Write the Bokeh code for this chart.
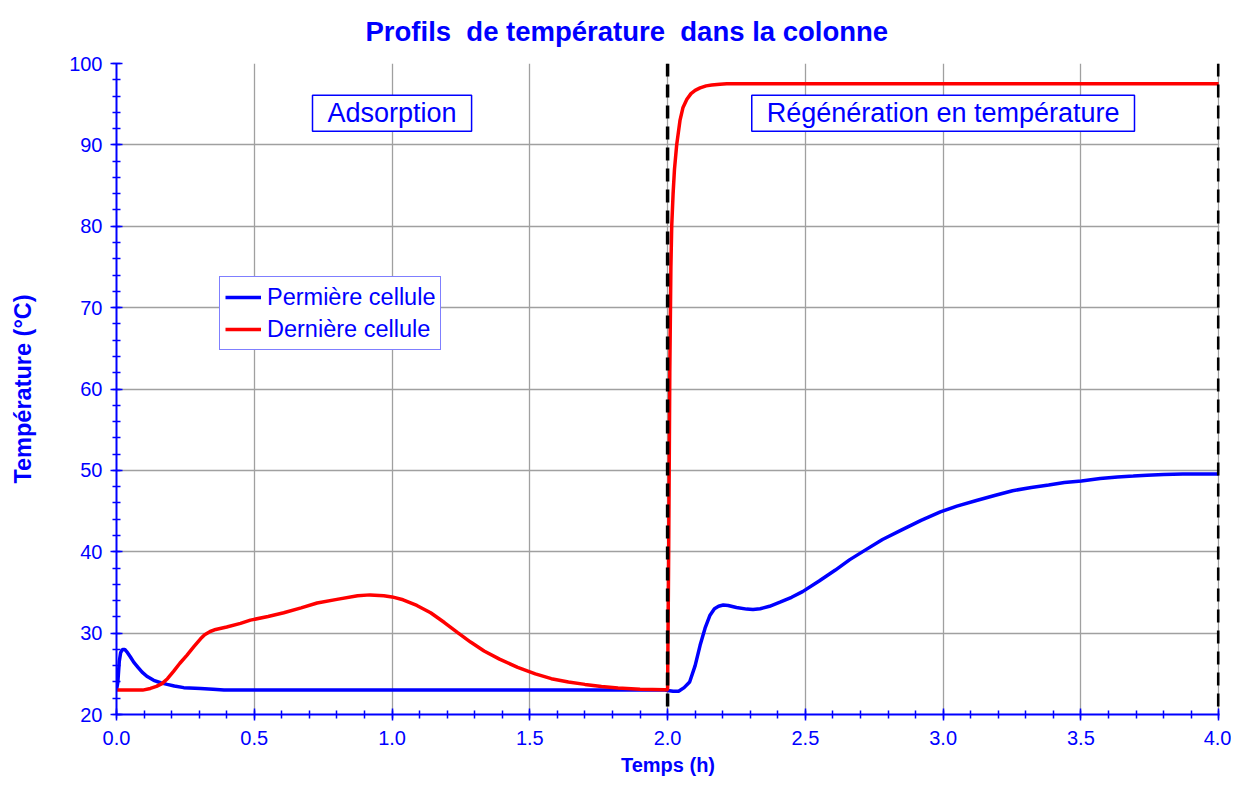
from bokeh.plotting import figure
from bokeh.models import Range1d, Span, Label, Legend, LegendItem, NumeralTickFormatter, SingleIntervalTicker
from bokeh.embed import file_html
from bokeh.resources import INLINE

# Première cellule (blue)
t_first = [0.0, 0.005, 0.01, 0.015, 0.022, 0.03, 0.04, 0.05, 0.063, 0.078, 0.093, 0.11, 0.135,
           0.16, 0.184, 0.21, 0.244, 0.305, 0.35, 0.39, 0.5,
           1.0, 1.5, 1.99, 2.0, 2.02, 2.04, 2.06, 2.08, 2.1, 2.118, 2.136, 2.154, 2.17, 2.185,
           2.202, 2.22, 2.25, 2.287, 2.31, 2.336, 2.37, 2.408, 2.45, 2.49, 2.55, 2.609, 2.66,
           2.717, 2.78, 2.848, 2.92, 2.99, 3.05, 3.121, 3.19, 3.252, 3.32, 3.383, 3.44, 3.502,
           3.57, 3.633, 3.69, 3.74, 3.8, 3.87, 4.0]
T_first = [23.0, 24.0, 26.5, 27.6, 28.0, 28.0, 27.6, 27.1, 26.4, 25.8, 25.2, 24.7, 24.2,
           23.9, 23.7, 23.5, 23.3, 23.2, 23.1, 23.0, 23.0,
           23.0, 23.0, 23.0, 22.95, 22.85, 22.85, 23.3, 24.0, 26.0, 28.5, 30.6, 32.2, 33.0, 33.3,
           33.45, 33.4, 33.15, 32.95, 32.9, 33.0, 33.3, 33.8, 34.4, 35.1, 36.4, 37.75, 39.0,
           40.2, 41.5, 42.65, 43.85, 44.9, 45.6, 46.3, 46.95, 47.5, 47.9, 48.2, 48.5, 48.7,
           49.0, 49.2, 49.3, 49.4, 49.5, 49.55, 49.55]

# Dernière cellule (red)
t_last = [0.0, 0.095, 0.123, 0.145, 0.165, 0.185, 0.207, 0.23, 0.256, 0.28, 0.305, 0.32, 0.34,
          0.36, 0.4, 0.45, 0.486, 0.55, 0.607, 0.67, 0.728, 0.8, 0.875, 0.92, 0.97, 1.0, 1.04,
          1.09, 1.14, 1.19, 1.237, 1.285, 1.334, 1.39, 1.456, 1.52, 1.578, 1.64, 1.7, 1.76,
          1.82, 1.9, 1.99, 2.0, 2.004, 2.008, 2.012, 2.015, 2.02, 2.025, 2.033, 2.045, 2.056,
          2.07, 2.085, 2.1, 2.118, 2.14, 2.16, 2.19, 2.215, 3.0, 4.0]
T_last = [23.0, 23.0, 23.2, 23.45, 23.8, 24.4, 25.3, 26.3, 27.3, 28.3, 29.3, 29.8, 30.2,
          30.45, 30.75, 31.2, 31.6, 32.05, 32.5, 33.1, 33.7, 34.15, 34.6, 34.7, 34.6, 34.45, 34.1,
          33.4, 32.5, 31.3, 30.1, 28.9, 27.8, 26.8, 25.8, 25.0, 24.4, 24.0, 23.7, 23.45,
          23.25, 23.1, 23.05, 23.05, 40.0, 62.0, 75.0, 80.0, 84.0, 87.0, 90.0, 93.0, 94.6,
          95.6, 96.3, 96.7, 97.0, 97.25, 97.35, 97.45, 97.5, 97.5, 97.5]

series_labels = ["Permière cellule", "Dernière cellule"]
phase_labels = ["Adsorption", "Régénération en température"]
phase_x = [1.0, 3.0]
phase_y = [93.9, 93.9]
phase_bounds = [2.0, 4.0]
title_text = "Profils\u00a0 de température\u00a0 dans la colonne"
x_title = "Temps (h)"
y_title = "Température (°C)"

BLUE = "#0000ff"
FONT = "Liberation Sans"

p = figure(width=1231, height=778, output_backend="svg", toolbar_location=None,
           x_range=Range1d(0, 4.003), y_range=Range1d(20, 100),
           min_border_left=116, min_border_right=12, min_border_top=63, min_border_bottom=64)

p.title.text = title_text
p.title.text_color = BLUE
p.title.text_font = FONT
p.title.text_font_size = "27.5px"
p.title.text_font_style = "bold"
p.title.align = "left"
p.title.offset = 249
p.title.vertical_align = "top"
p.title.standoff = 30

p.outline_line_color = None
p.background_fill_color = "white"

p.xaxis.ticker = SingleIntervalTicker(interval=0.5, num_minor_ticks=5)
p.yaxis.ticker = SingleIntervalTicker(interval=10, num_minor_ticks=5)
p.xaxis.formatter = NumeralTickFormatter(format="0.0")
for ax in (p.xaxis, p.yaxis):
    ax.axis_line_color = BLUE
    ax.axis_line_width = 2
    ax.major_tick_line_color = BLUE
    ax.minor_tick_line_color = BLUE
    ax.major_tick_line_width = 1.5
    ax.minor_tick_line_width = 1.5
    ax.major_tick_in = 6
    ax.major_tick_out = 6
    ax.minor_tick_in = 4
    ax.minor_tick_out = 4
    ax.major_label_text_color = BLUE
    ax.major_label_text_font = FONT
    ax.major_label_text_font_size = "20px"
    ax.axis_label_text_color = BLUE
    ax.axis_label_text_font = FONT
    ax.axis_label_text_font_style = "bold"

p.xaxis.axis_label = x_title
p.yaxis.axis_label = y_title
p.xaxis.axis_label_text_font_size = "20px"
p.yaxis.axis_label_text_font_size = "23.5px"
p.xaxis.axis_label_standoff = 6
p.yaxis.axis_label_standoff = 30
p.xaxis.major_label_standoff = 10
p.yaxis.major_label_standoff = 8

p.grid.grid_line_color = "#a0a0a0"
p.grid.grid_line_width = 1.3

r_first = p.line(t_first, T_first, line_color=BLUE, line_width=3.5)
r_last = p.line(t_last, T_last, line_color="#ff0000", line_width=3.5)

for xb in phase_bounds:
    p.add_layout(Span(location=xb, dimension="height", line_color="black",
                      line_width=3.5, line_dash="13 8"))

for txt, xx, yy in zip(phase_labels, phase_x, phase_y):
    p.add_layout(Label(x=xx, y=yy, text=txt, text_align="center", text_baseline="middle",
                       text_color=BLUE, text_font=FONT, text_font_size="27px",
                       border_line_color=BLUE, border_line_width=1.5,
                       background_fill_color="white",
                       padding=dict(left=15, right=15, top=3, bottom=3)))

legend = Legend(items=[LegendItem(label=series_labels[0], renderers=[r_first]),
                       LegendItem(label=series_labels[1], renderers=[r_last])],
                location=(103, 364))
legend.label_text_color = BLUE
legend.label_text_font = FONT
legend.label_text_font_size = "23.5px"
legend.border_line_color = BLUE
legend.border_line_width = 1.5
legend.glyph_width = 36
legend.glyph_height = 30
legend.label_standoff = 6
legend.label_height = 30
legend.spacing = 2
legend.padding = 5
legend.margin = 0
legend.background_fill_alpha = 1.0
p.add_layout(legend, "center")

open("out.html", "w").write(file_html(p, INLINE))
